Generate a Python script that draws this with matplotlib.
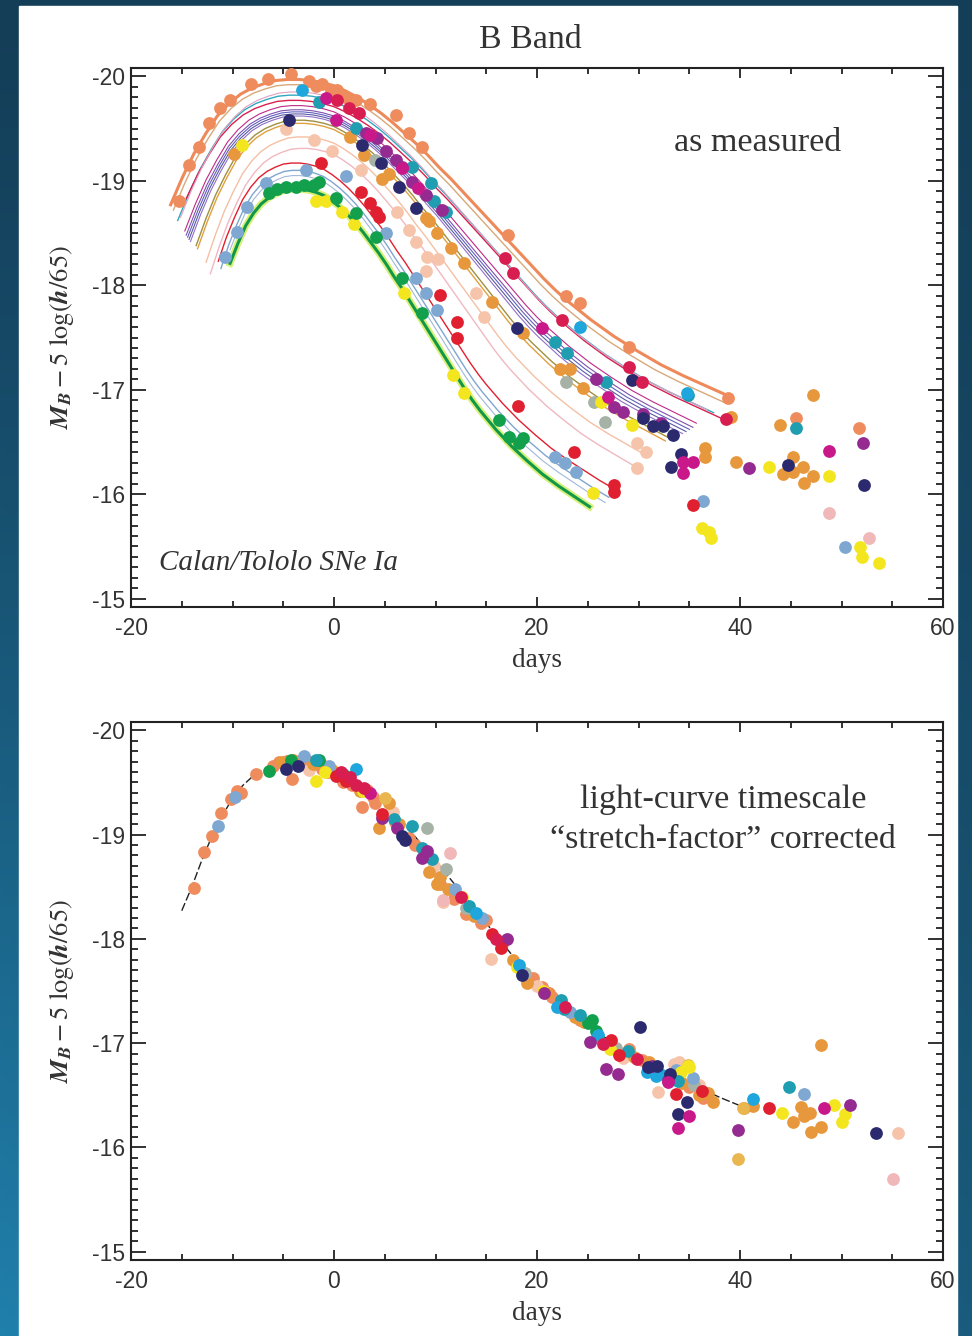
import numpy as np
import matplotlib
matplotlib.use("Agg")
import matplotlib.pyplot as plt
from matplotlib.patches import Rectangle
from matplotlib.ticker import MultipleLocator, FixedLocator, FormatStrFormatter

plt.rcParams['mathtext.fontset'] = 'stix'
plt.rcParams['axes.unicode_minus'] = False
plt.rcParams['font.family'] = 'sans-serif'
plt.rcParams['font.sans-serif'] = ['Liberation Sans', 'DejaVu Sans']

SERIF = 'Liberation Serif'

# stretch-corrected B-band template
template_t = np.array([-15, -14, -13, -12, -11, -10, -9, -8, -7, -6, -5, -4, -3, -2, -1, 0,
                       1, 2, 3, 4, 5, 6, 7, 8, 9, 10, 11, 12, 13, 14, 15, 16, 17, 18, 19,
                       20, 22, 24, 26, 28, 30, 32, 34, 36, 38, 40])
template_m = np.array([-18.27, -18.50, -18.76, -18.99, -19.18, -19.35, -19.47, -19.56, -19.62,
                       -19.66, -19.69, -19.70, -19.70, -19.69, -19.67, -19.64, -19.59, -19.53,
                       -19.46, -19.38, -19.29, -19.19, -19.09, -18.98, -18.86, -18.75, -18.63,
                       -18.51, -18.39, -18.27, -18.15, -18.03, -17.91, -17.79, -17.68, -17.58,
                       -17.40, -17.24, -17.10, -16.97, -16.86, -16.76, -16.66, -16.57, -16.48,
                       -16.40])

# individual fits, upper panel: colour, width, stretch, shift, peak mag, first day, last day
fit_colors = ['#ee8a5a', '#d8a878', '#30a8c0', '#d82050', '#e0a0c0', '#c02888', '#8050b0',
              '#6060c0', '#5a5aa0', '#9070c8', '#a09040', '#e0a040', '#f4c0a4', '#f0b8c0',
              '#e02030', '#7fa6d0', '#a0b8d8', '#109848']
fit_widths = [2.2, 1.0, 1.0, 1.0, 0.8, 0.8, 0.8, 0.8, 0.8, 0.8, 1.0, 1.0, 1.0, 1.0, 1.0, 1.0, 0.8, 2.2]
fit_stretch = [1.15, 1.13, 1.10, 1.12, 1.08, 1.05, 1.04, 1.03, 1.02, 1.01, 0.97, 0.96, 0.90, 0.87,
               0.80, 0.78, 0.77, 0.77]
fit_shift = [0, 0, 0, 0, 0, 0, 0, 0, 0, 0, 0, 0, 0, 0, -1, -1, -1, -1]
fit_peak = [-19.97, -19.92, -19.82, -19.77, -19.85, -19.72, -19.68, -19.66, -19.64, -19.62,
            -19.58, -19.55, -19.42, -19.31, -19.17, -19.10, -19.05, -18.92]
fit_start = [-16.2, -16.0, -15.8, -15.5, -15.3, -15.0, -14.8, -14.6, -14.4, -14.2, -14.0, -13.8,
             -13.2, -12.8, -11.8, -11.4, -11.0, -10.4]
fit_end = [39.5, 39.0, 38.5, 38.6, 37.5, 36.5, 36.6, 36.6, 36.4, 36.2, 34.9, 34.5, 31.5, 30.7,
           28.5, 27.5, 27.0, 26.0]

# measured points, upper panel
top_salmon = [(-15.3, -18.81), (-14.3, -19.15), (-13.3, -19.32), (-12.3, -19.55), (-11.2, -19.70),
              (-10.2, -19.77), (-8.2, -19.93), (-6.5, -19.97), (-4.2, -20.02), (-2.5, -19.96),
              (-1.8, -19.91), (-1.2, -19.93), (-0.3, -19.87), (0.3, -19.87), (1.2, -19.80),
              (2.2, -19.77), (3.5, -19.74), (6.1, -19.63), (7.4, -19.46), (8.7, -19.32),
              (17.1, -18.48), (22.9, -17.90), (24.2, -17.83), (29.1, -17.41), (38.8, -16.92),
              (45.5, -16.73), (51.7, -16.63)]
top_orange = [(-9.9, -19.26), (1.6, -19.42), (3.0, -19.25), (4.7, -19.02), (5.4, -19.07),
              (9.1, -18.64), (9.4, -18.62), (10.1, -18.50), (11.5, -18.36), (12.8, -18.21),
              (15.6, -17.84), (18.6, -17.54), (22.3, -17.20), (23.3, -17.20), (24.5, -17.02),
              (36.6, -16.44), (36.6, -16.36), (39.1, -16.74), (39.6, -16.31), (43.9, -16.66),
              (45.2, -16.36), (46.2, -16.26), (45.2, -16.21), (44.2, -16.19), (47.2, -16.17),
              (46.3, -16.11), (47.2, -16.95)]
top_peach = [(-4.7, -19.50), (-2.0, -19.39), (-0.2, -19.29), (2.7, -19.10), (6.2, -18.70),
             (7.4, -18.53), (8.1, -18.41), (9.2, -18.27), (10.2, -18.25), (9.1, -18.14),
             (14.0, -17.93), (14.8, -17.70), (29.9, -16.49), (30.7, -16.40), (29.9, -16.25)]
top_pink = [(48.8, -15.82), (52.7, -15.58)]
top_red = [(-1.3, -19.17), (2.7, -18.89), (3.5, -18.79), (4.1, -18.70), (4.4, -18.65),
           (10.4, -17.91), (12.1, -17.65), (12.1, -17.50), (18.1, -16.84), (23.6, -16.40),
           (27.6, -16.09), (27.6, -16.02), (35.4, -15.90)]
top_crimson = [(0.3, -19.77), (1.5, -19.70), (2.5, -19.65), (16.8, -18.26), (17.6, -18.12),
               (22.5, -17.67), (29.1, -17.22), (30.3, -17.07), (38.6, -16.72)]
top_magenta = [(-0.8, -19.79), (0.2, -19.58), (3.5, -19.44), (6.7, -19.12), (8.3, -18.93),
               (20.5, -17.59), (27.0, -16.93), (34.4, -16.31), (34.4, -16.20), (35.4, -16.31),
               (48.8, -16.41)]
top_purple = [(3.2, -19.46), (4.2, -19.41), (5.1, -19.29), (6.1, -19.20), (6.7, -19.13),
              (7.7, -18.99), (9.1, -18.86), (10.6, -18.72), (25.8, -17.10), (27.6, -16.83),
              (28.5, -16.79), (30.4, -16.77), (32.2, -16.68), (40.9, -16.25), (52.1, -16.49)]
top_navy = [(-4.4, -19.58), (2.8, -19.34), (4.6, -19.17), (6.4, -18.94), (8.1, -18.74),
            (18.0, -17.59), (29.4, -17.09), (30.4, -16.73), (31.4, -16.65), (32.4, -16.65),
            (33.4, -16.57), (34.2, -16.38), (33.2, -16.26), (44.7, -16.28), (52.2, -16.09)]
top_teal = [(-1.5, -19.75), (2.2, -19.51), (7.7, -19.13), (9.6, -18.98), (9.9, -18.81),
            (11.0, -18.70), (21.8, -17.46), (23.0, -17.35), (26.8, -17.07), (34.9, -16.95),
            (45.5, -16.63)]
top_cyan = [(-3.2, -19.87), (24.2, -17.60), (34.8, -16.97)]
top_steel = [(-10.7, -18.27), (-9.6, -18.51), (-8.6, -18.75), (-6.7, -18.98), (-2.8, -19.10),
             (1.2, -19.05), (5.1, -18.50), (8.1, -18.07), (9.1, -17.93), (10.1, -17.76),
             (21.8, -16.36), (22.8, -16.30), (23.8, -16.21), (36.4, -15.93), (50.3, -15.49)]
top_green = [(-6.4, -18.88), (-5.6, -18.92), (-4.7, -18.94), (-3.7, -18.94), (-3.0, -18.96),
             (-2.0, -18.96), (-1.5, -18.99), (0.2, -18.84), (2.2, -18.69), (4.1, -18.46),
             (6.7, -18.07), (8.7, -17.73), (16.3, -16.71), (17.2, -16.55), (18.2, -16.49),
             (18.6, -16.54)]
top_yellow = [(-9.1, -19.34), (-1.8, -18.81), (-0.8, -18.81), (0.8, -18.70), (2.0, -18.59),
              (6.9, -17.93), (11.7, -17.14), (12.8, -16.97), (25.5, -16.01), (26.3, -16.88),
              (29.4, -16.66), (36.3, -15.68), (36.9, -15.64), (37.1, -15.58), (42.9, -16.26),
              (48.8, -16.17), (51.8, -15.49), (52.0, -15.40), (53.7, -15.34)]
top_gray = [(4.0, -19.20), (22.9, -17.07), (25.6, -16.88), (26.7, -16.69)]

# stretch-corrected points, lower panel
bot_salmon = [(-13.8, -18.49), (-12.8, -18.83), (-12.0, -18.99), (-11.1, -19.21), (-10.1, -19.34),
              (-9.6, -19.42), (-9.2, -19.40), (-7.7, -19.58), (-6.0, -19.66), (-5.4, -19.70),
              (-4.6, -19.71), (-4.1, -19.53), (-3.0, -19.68), (-2.8, -19.72), (-2.3, -19.70),
              (-1.2, -19.63), (-0.6, -19.60), (0.5, -19.56), (1.3, -19.52), (1.8, -19.48),
              (2.8, -19.26), (3.8, -19.36), (4.0, -19.30), (6.0, -19.12), (7.4, -18.97),
              (8.0, -18.90), (10.4, -18.53), (11.8, -18.38), (13.0, -18.24), (14.5, -18.15),
              (15.0, -18.18), (16.6, -17.95), (19.6, -17.62), (20.5, -17.54), (21.2, -17.48),
              (21.5, -17.44), (24.2, -17.22), (25.9, -17.06), (26.7, -16.99), (29.1, -16.94),
              (30.3, -16.84), (33.2, -16.68), (35.0, -16.58), (36.4, -16.47), (36.7, -16.49),
              (-4.0, -19.72), (-3.5, -19.70), (-1.8, -19.68), (0.9, -19.50), (3.3, -19.43)]
bot_orange = [(-5.1, -19.70), (-3.8, -19.71), (-2.1, -19.68), (-1.0, -19.66), (-0.2, -19.62),
              (2.6, -19.42), (4.4, -19.06), (5.4, -19.30), (6.4, -19.10), (9.4, -18.64),
              (10.1, -18.53), (10.4, -18.59), (11.2, -18.48), (13.8, -18.22), (17.6, -17.80),
              (19.0, -17.58), (21.0, -17.48), (23.7, -17.25), (23.9, -17.25), (24.6, -17.20),
              (29.6, -16.87), (31.0, -16.82), (34.3, -16.62), (36.0, -16.50), (36.8, -16.52),
              (37.3, -16.44), (40.4, -16.38), (41.3, -16.40), (45.2, -16.24), (46.0, -16.39),
              (46.3, -16.30), (46.9, -16.33), (47.0, -16.15), (48.0, -16.20), (48.0, -16.98)]
bot_gold = [(5.0, -19.35), (34.9, -16.79), (39.8, -15.89), (40.3, -16.38)]
bot_peach = [(-2.5, -19.62), (0.0, -19.60), (5.8, -19.22), (9.9, -18.70), (10.7, -18.35),
             (15.5, -17.81), (20.0, -17.55), (28.5, -16.86), (31.9, -16.53), (33.5, -16.80),
             (34.0, -16.82), (36.0, -16.60), (55.6, -16.14)]
bot_pink = [(11.4, -18.82), (10.7, -18.37), (55.1, -15.70)]
bot_red = [(0.2, -19.56), (1.2, -19.51), (4.7, -19.20), (15.6, -18.05), (16.5, -17.91),
           (27.3, -17.03), (28.1, -16.89), (33.7, -16.51), (36.3, -16.54), (42.9, -16.38)]
bot_crimson = [(0.7, -19.60), (1.6, -19.55), (2.2, -19.48), (3.0, -19.45), (12.5, -18.40),
               (16.0, -18.00), (22.8, -17.35), (26.5, -16.99), (29.9, -16.85)]
bot_purple = [(4.7, -19.16), (6.2, -19.06), (8.7, -18.78), (9.2, -18.84), (17.0, -18.00),
              (20.7, -17.48), (25.2, -17.01), (26.8, -16.75), (28.0, -16.70), (31.3, -16.78),
              (32.9, -16.65), (39.8, -16.17), (50.8, -16.41)]
bot_magenta = [(3.5, -19.40), (32.9, -16.63), (33.9, -16.19), (35.0, -16.30), (48.3, -16.38)]
bot_navy = [(-4.7, -19.63), (-3.5, -19.66), (1.0, -19.55), (6.7, -18.99), (7.0, -18.95),
            (18.5, -17.65), (30.1, -17.15), (30.9, -16.77), (31.8, -16.78), (33.1, -16.70),
            (33.9, -16.32), (34.8, -16.44), (53.4, -16.14)]
bot_teal = [(-1.8, -19.72), (5.9, -19.15), (7.7, -19.08), (8.7, -18.87), (9.7, -18.77),
            (13.3, -18.32), (22.4, -17.41), (22.7, -17.33), (24.2, -17.27), (29.0, -16.92),
            (33.9, -16.64), (44.8, -16.58)]
bot_cyan = [(2.2, -19.63), (14.0, -18.25), (18.2, -17.75), (22.0, -17.35), (26.0, -17.08),
            (30.8, -16.72), (31.7, -16.68), (32.1, -16.70), (41.3, -16.46)]
bot_steel = [(-11.4, -19.08), (-9.8, -19.36), (-3.0, -19.75), (-0.5, -19.66), (11.9, -18.48),
             (14.6, -18.20), (23.3, -17.30), (33.7, -16.74), (35.4, -16.67), (46.3, -16.51)]
bot_green = [(-6.4, -19.61), (-4.2, -19.72), (-1.5, -19.72), (0.9, -19.58), (25.0, -17.19),
             (25.4, -17.22), (25.8, -17.12)]
bot_yellow = [(-1.8, -19.51), (-0.9, -19.60), (2.9, -19.42), (12.6, -18.40), (18.0, -17.73),
              (20.6, -17.50), (27.2, -16.94), (34.2, -16.72), (34.9, -16.78), (35.0, -16.77),
              (44.1, -16.33), (49.3, -16.41), (50.0, -16.24), (50.3, -16.32)]
bot_gray = [(9.2, -19.06), (11.0, -18.67), (13.0, -18.30), (18.8, -17.67), (27.8, -16.95),
            (35.5, -16.60)]

C = {'salmon': '#ef8c5e', 'orange': '#e8983c', 'peach': '#f6c4ab', 'pink': '#f0b8b8',
     'red': '#e02030', 'crimson': '#d81e50', 'magenta': '#c8188a', 'purple': '#952a90',
     'navy': '#2b2a6e', 'teal': '#1e9eb0', 'cyan': '#1fa6dc', 'steel': '#7ea7d2',
     'green': '#13a04c', 'yellow': '#f4e61e', 'gray': '#a7b2a7', 'gold': '#e9b650'}

top_groups = [('salmon', top_salmon), ('peach', top_peach), ('orange', top_orange),
              ('pink', top_pink), ('gray', top_gray), ('yellow', top_yellow),
              ('steel', top_steel), ('green', top_green), ('teal', top_teal),
              ('cyan', top_cyan), ('purple', top_purple), ('navy', top_navy),
              ('magenta', top_magenta), ('red', top_red), ('crimson', top_crimson)]
bot_groups = [('salmon', bot_salmon), ('peach', bot_peach), ('pink', bot_pink),
              ('orange', bot_orange), ('gold', bot_gold), ('gray', bot_gray),
              ('steel', bot_steel), ('yellow', bot_yellow), ('green', bot_green),
              ('teal', bot_teal), ('cyan', bot_cyan), ('purple', bot_purple),
              ('navy', bot_navy), ('magenta', bot_magenta), ('red', bot_red),
              ('crimson', bot_crimson)]

W, H = 972, 1336
fig = plt.figure(figsize=(W / 100, H / 100), dpi=100)

# slide background + white card
bg = fig.add_axes([0, 0, 1, 1], zorder=-10)
bg.axis('off')
yy, xx = np.mgrid[0:1:200j, 0:1:200j]
f = (yy ** 1.3) * (1 - 0.55 * xx)
top_col = np.array([20, 62, 88]) / 255
low_col = np.array([32, 128, 172]) / 255
img = top_col + (low_col - top_col) * f[..., None]
bg.imshow(img, extent=[0, 1, 0, 1], aspect='auto', origin='upper')
bg.add_patch(Rectangle((19 / W, 0), 938 / W, (H - 6) / H, color='white', zorder=2))
bg.set_xlim(0, 1)
bg.set_ylim(0, 1)


def style(ax):
    ax.set_xlim(-20, 60)
    ax.set_ylim(-14.92, -20.08)
    ax.xaxis.set_major_locator(FixedLocator([-20, 0, 20, 40, 60]))
    ax.xaxis.set_minor_locator(MultipleLocator(5))
    ax.yaxis.set_major_locator(MultipleLocator(1))
    ax.yaxis.set_minor_locator(MultipleLocator(0.1))
    ax.xaxis.set_major_formatter(FormatStrFormatter('%d'))
    ax.yaxis.set_major_formatter(FormatStrFormatter('%d'))
    ax.tick_params(which='both', direction='in', top=True, right=True, width=1.3,
                   color='#222222', labelcolor='#333333')
    ax.tick_params(axis='x', which='major', length=7, pad=7, labelsize=16.5)
    ax.tick_params(axis='x', which='minor', length=4)
    ax.tick_params(axis='y', which='major', length=11, pad=4, labelsize=16.5)
    ax.tick_params(axis='y', which='minor', length=5)
    for sp in ax.spines.values():
        sp.set_linewidth(1.5)
        sp.set_color('#222222')
    ax.set_xlabel('days', family=SERIF, fontsize=19.5, color='#333333', labelpad=6)
    ax.set_ylabel(r'$\mathbfit{M}_{\mathbfit{B}} - 5\ \mathrm{log}(\mathbfit{h}/65)$',
                  fontsize=19, color='#333333', labelpad=12)


def draw_points(ax, groups):
    for name, pts in groups:
        t = [p[0] for p in pts]
        m = [p[1] for p in pts]
        ax.plot(t, m, 'o', ms=9.2, color=C[name], mec='none', zorder=5)


# upper panel: as measured
ax1 = fig.add_axes([131 / W, 1 - 607 / H, 812 / W, 539 / H])
style(ax1)
peak0 = template_m.min()
for col, lw, s, sh, pk, t0, t1 in zip(fit_colors, fit_widths, fit_stretch, fit_shift,
                                      fit_peak, fit_start, fit_end):
    tt = template_t * s + sh
    mm = template_m + (pk - peak0)
    keep = (tt >= t0) & (tt <= t1)
    if col == '#109848':
        ax1.plot(tt[keep], mm[keep], color='#d8f07a', lw=5, zorder=2)
    ax1.plot(tt[keep], mm[keep], color=col, lw=lw, zorder=3)
draw_points(ax1, top_groups)
ax1.text(0.0345, 0.082, 'Calan/Tololo SNe Ia', transform=ax1.transAxes, family=SERIF,
         style='italic', fontsize=21, color='#333333', va='center')

# lower panel: stretch corrected
ax2 = fig.add_axes([131 / W, 1 - 1260 / H, 812 / W, 538 / H])
style(ax2)
ax2.plot(template_t, template_m, color='#222222', lw=1.0, ls=(0, (6, 2)), zorder=4)
draw_points(ax2, bot_groups)

fig.text(530 / W, 1 - 40 / H, 'B Band', family=SERIF, fontsize=24.5, color='#333333',
         ha='center', va='center')
fig.text(758 / W, 1 - 143 / H, 'as measured', family=SERIF, fontsize=24.5, color='#333333',
         ha='center', va='center')
fig.text(723 / W, 1 - 800 / H, 'light-curve timescale', family=SERIF, fontsize=24.5,
         color='#333333', ha='center', va='center')
fig.text(723 / W, 1 - 840 / H, '\u201cstretch-factor\u201d corrected', family=SERIF,
         fontsize=24.5, color='#333333', ha='center', va='center')

fig.savefig('out.png', dpi=100)
